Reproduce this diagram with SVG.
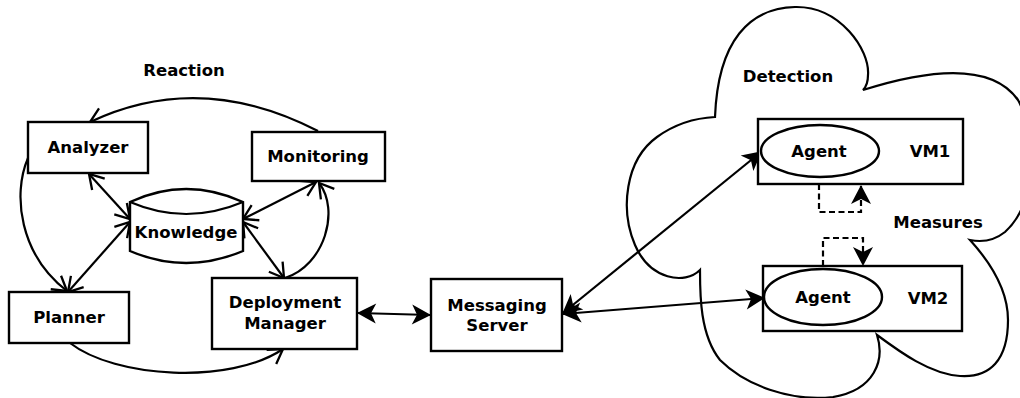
<svg xmlns="http://www.w3.org/2000/svg" width="1020" height="398" viewBox="0 0 1020 398">
<defs>
<style>
.box{fill:#fff;stroke:#000;stroke-width:2.4}
.shape{fill:none;stroke:#000;stroke-width:2.2}
.t{font-family:"DejaVu Sans","Liberation Sans",sans-serif;font-weight:bold;font-size:16.5px;fill:#000;text-anchor:middle}
.c{fill:none;stroke:#000;stroke-width:2.2}
.open{marker-start:url(#openS);marker-end:url(#openE)}
.fill2{marker-start:url(#fillS);marker-end:url(#fillE)}
.dash{stroke-dasharray:6,3.5;marker-end:url(#fillE)}
</style>
<marker id="openE" markerUnits="userSpaceOnUse" markerWidth="30" markerHeight="30" viewBox="-20 -15 30 30" refX="0" refY="0" orient="auto" overflow="visible">
<path d="M-14,-8.5 L0,0 L-14,8.5" fill="none" stroke="#000" stroke-width="2.3"/>
</marker>
<marker id="openS" markerUnits="userSpaceOnUse" markerWidth="30" markerHeight="30" viewBox="-20 -15 30 30" refX="0" refY="0" orient="auto-start-reverse" overflow="visible">
<path d="M-14,-8.5 L0,0 L-14,8.5" fill="none" stroke="#000" stroke-width="2.3"/>
</marker>
<marker id="fillE" markerUnits="userSpaceOnUse" markerWidth="30" markerHeight="30" viewBox="-25 -15 30 30" refX="0" refY="0" orient="auto" overflow="visible">
<path d="M1,0 L-18,-10 L-13,0 L-18,10 Z" fill="#000"/>
</marker>
<marker id="fillS" markerUnits="userSpaceOnUse" markerWidth="30" markerHeight="30" viewBox="-25 -15 30 30" refX="0" refY="0" orient="auto-start-reverse" overflow="visible">
<path d="M1,0 L-18,-10 L-13,0 L-18,10 Z" fill="#000"/>
</marker>
</defs>
<rect width="1020" height="398" fill="#fff"/>

<g id="cloud">
<path class="shape" d="M715,117 C718,40 750,8 795,7 C840,6 870,50 868,75 Q868,85 863,90 C920,72 990,60 1018,100 C1035,130 1040,200 1005,232 Q990,244 970,240 C990,262 1008,290 1008,320 C1008,360 990,378 960,376 C930,374 900,352 877,335 C885,360 875,390 833,397 C790,402 745,385 720,360 C700,335 700,295 700,270 C685,285 650,280 635,245 C620,210 625,160 657,137 C675,124 695,118 715,117 Z"/>
</g>

<text class="t" x="184" y="76">Reaction</text>
<text class="t" x="788" y="82">Detection</text>
<text class="t" x="938" y="228">Measures</text>

<g id="connectors">
<path class="c" d="M318,131 Q200,70 90,122" marker-end="url(#openE)"/>
<path class="c" d="M28,158 C12,195 20,255 67,291" marker-end="url(#openE)"/>
<path class="c" d="M70,343 C115,378 230,385 283,349" marker-end="url(#openE)"/>
<path class="c" d="M285,278 C325,265 340,210 319,183" marker-end="url(#openE)"/>
<path class="c open" d="M89,174 L130,219"/>
<path class="c open" d="M130,222 L68,292"/>
<path class="c open" d="M243,219 L316,182"/>
<path class="c open" d="M243,222 L284,278"/>
<path class="c fill2" d="M358,313 L430,315"/>
<path class="c fill2" d="M563,313 L761,152"/>
<path class="c fill2" d="M563,314 L764,298"/>
<path class="c dash" d="M819,184 L819,212 L861,212 L861,186"/>
<path class="c dash" d="M823,266 L823,238 L863,238 L863,265"/>
</g>

<g id="analyzer">
<rect class="box" x="28" y="122" width="120" height="51"/>
<text class="t" x="88" y="153">Analyzer</text>
</g>
<g id="monitoring">
<rect class="box" x="252" y="132" width="133" height="49"/>
<text class="t" x="318" y="162">Monitoring</text>
</g>
<g id="knowledge">
<path class="box" d="M130,202 Q186,176 243,202 L243,251 Q186,275 130,251 Z"/>
<path class="shape" d="M130,202 Q186,226 243,202"/>
<text class="t" x="186" y="238">Knowledge</text>
</g>
<g id="planner">
<rect class="box" x="9" y="292" width="120" height="51"/>
<text class="t" x="69" y="323">Planner</text>
</g>
<g id="deployment">
<rect class="box" x="212" y="278" width="145" height="71"/>
<text class="t" x="285" y="308">Deployment</text>
<text class="t" x="285" y="329">Manager</text>
</g>
<g id="messaging">
<rect class="box" x="431" y="279" width="131" height="72"/>
<text class="t" x="497" y="311">Messaging</text>
<text class="t" x="497" y="331">Server</text>
</g>
<g id="vm1">
<rect class="box" x="758" y="119" width="205" height="65"/>
<ellipse class="box" cx="820" cy="151" rx="59" ry="26"/>
<text class="t" x="819" y="157">Agent</text>
<text class="t" x="930" y="157">VM1</text>
</g>
<g id="vm2">
<rect class="box" x="763" y="266" width="199" height="65"/>
<ellipse class="box" cx="823" cy="297" rx="59" ry="28"/>
<text class="t" x="823" y="303">Agent</text>
<text class="t" x="928" y="304">VM2</text>
</g>
</svg>
